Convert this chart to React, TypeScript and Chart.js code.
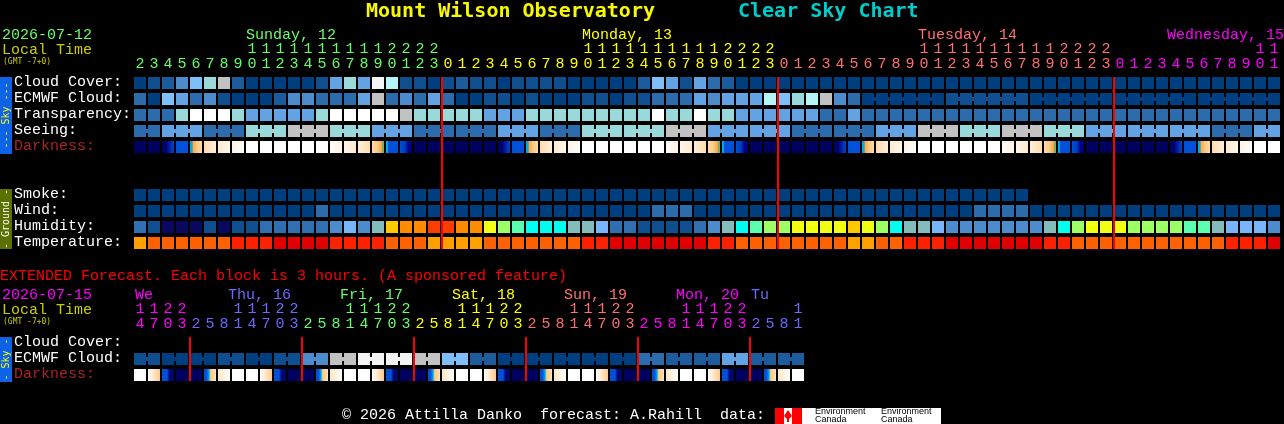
import React, { useEffect, useRef } from "react";
import { Chart, registerables } from "chart.js";

Chart.register(...registerables);

const MONO = '"Liberation Mono", "DejaVu Sans Mono", monospace';

// ---------- hours ----------
const mainHours = [
  2,3,4,5,6,7,8,9,10,11,12,13,14,15,16,17,18,19,20,21,22,23,
  0,1,2,3,4,5,6,7,8,9,10,11,12,13,14,15,16,17,18,19,20,21,22,23,
  0,1,2,3,4,5,6,7,8,9,10,11,12,13,14,15,16,17,18,19,20,21,22,23,
  0,1,2,3,4,5,6,7,8,9,10,11,
];
const extHours = [
  14,17,20,23,
  2,5,8,11,14,17,20,23, 2,5,8,11,14,17,20,23, 2,5,8,11,14,17,20,23,
  2,5,8,11,14,17,20,23, 2,5,8,11,14,17,20,23,
  2,5,8,11,
];
const mainDayStarts = [22, 46, 70];
const extDayStarts = [4, 12, 20, 28, 36, 44];

const GREEN = "#66ff66", YELLOW = "#ffff00", SALMON = "#ff7070", MAGENTA = "#ff00ff", PERI = "#6a6aff";
const mainDayColors = [GREEN, YELLOW, SALMON, MAGENTA];
const extDayColors = [MAGENTA, PERI, GREEN, YELLOW, SALMON, MAGENTA, PERI];

// ---------- colour tables ----------
const skyPalette = ["#003f7f","#0f4f8f","#1c5c9c","#2c6cac","#4c8ccc","#63a3e3","#7fbff7","#99d9d9","#b5f5f5","#c2c2c2","#f4f4f4","#ffffff"];
const humidityPalette = ["#08085f","#0f4f8f","#3070b0","#4c8ccc","#78b4f8","#84bcbc","#00ffee","#5cffb0","#9cff64","#f0ff14","#ffc800","#ff8c00","#ff3c00"];
const temperaturePalette = ["#ffa000","#ff6000","#ff2000","#e00000"];
const darkStops: Record<string, [number, string][]> = {
  n: [[0,"#00005f"]],
  d: [[0,"#00005f"],[0.3,"#00006e"],[0.6,"#001c9c"],[1,"#0048cc"]],
  b: [[0,"#0050d8"]],
  r: [[0,"#00a8e8"],[0.18,"#00a8e8"],[0.26,"#ffa840"],[0.6,"#ffc880"],[1,"#ffdcac"]],
  p: [[0,"#ffdcb0"],[1,"#ffeed8"]],
  q: [[0,"#ffead0"],[1,"#fff5e8"]],
  l: [[0,"#fff4e6"],[1,"#fffcf8"]],
  w: [[0,"#ffffff"]],
  L: [[0,"#fffcf8"],[1,"#fff4e6"]],
  Q: [[0,"#fff5e8"],[1,"#ffead0"]],
  P: [[0,"#ffeed8"],[1,"#ffdcb0"]],
  s: [[0,"#ffdcac"],[0.5,"#ffc880"],[0.78,"#ffa840"],[0.86,"#70b070"],[1,"#80b060"]],
  B: [[0,"#00a8e8"],[0.14,"#00a8e8"],[0.2,"#0050d8"],[1,"#0050d8"]],
  e: [[0,"#0050d8"],[0.4,"#0040c0"],[0.7,"#000090"],[1,"#00006a"]],
  S: [[0,"#ffffff"],[0.5,"#ffe6c4"],[1,"#ffc88a"]],
  D: [[0,"#0050d8"],[0.42,"#0050d8"],[0.6,"#000a80"],[1,"#00005f"]],
  R: [[0,"#0050d8"],[0.2,"#0050d8"],[0.42,"#00a8f0"],[0.55,"#ffc880"],[1,"#ffe4c0"]],
  V: [[0,"#ffe6c4"],[1,"#ffffff"]],
};

// ---------- main forecast rows (levels) ----------
const cloudCover = [
  0,1,2,4,6,7,9,2,0,0,0,0,0,1,5,7,5,10,8,1,1,0,
  1,2,1,1,0,1,1,1,1,0,0,0,0,0,2,6,5,1,5,3,2,0,0,0,
  0,0,0,0,0,0,0,0,0,0,0,0,0,0,0,0,0,0,0,0,0,0,0,0,
  0,0,0,0,0,0,0,0,0,0,0,0,
];
const ecmwfCloud = [
  3,0,6,5,3,4,1,0,0,0,2,4,4,3,3,3,5,9,3,4,3,5,
  3,0,0,1,1,0,1,0,0,0,1,1,0,1,1,3,3,3,5,4,5,5,5,8,
  6,7,8,9,4,3,0,0,0,0,0,0,1,1,1,1,1,1,0,0,0,0,0,0,
  0,0,0,0,0,0,0,0,0,0,0,0,
];
const ecmwfBlocks = [
  [52,6],[58,6],[64,6],[70,6],[76,6],
];
const transparency = [
  3,3,3,7,11,11,11,7,5,5,5,5,5,7,11,11,11,11,11,9,7,7,
  7,7,7,5,5,5,7,7,7,7,7,7,7,7,7,11,7,7,11,7,7,5,5,5,
  5,5,5,3,3,5,3,3,3,3,3,3,3,3,3,3,3,3,3,3,3,3,3,3,
  3,3,3,3,3,3,3,3,3,3,3,3,
];
const seeing = [
  3,3,5,5,5,3,3,3,7,7,7,9,9,9,7,7,7,5,5,5,3,3,
  3,3,3,3,5,5,5,3,3,3,7,7,7,7,7,7,9,9,9,5,5,5,5,5,
  5,3,3,3,3,3,3,5,5,5,9,9,9,7,7,7,9,9,9,7,7,7,5,5,
  5,5,5,5,5,5,5,3,3,3,5,5,
];
const seeingBlocks = [
  [0,2],[2,3],[5,3],[8,3],[11,3],[14,3],[17,3],[20,3],[23,3],[26,3],[29,3],[32,3],[35,3],[38,3],
  [41,3],[44,3],[47,3],[50,3],[53,3],[56,3],[59,3],[62,3],[65,3],[68,3],[71,3],[74,3],[77,3],[80,2],
];
const darkness = "nndbrpqlwwwwwwLQPsBennnnnndbrpqlwwwwwwLQPsBennnnnndbrpqlwwwwwwLQPsBennnnnndbrpqlww".split("");
const smoke = [
  0,0,0,0,0,0,0,0,0,0,0,0,0,0,0,0,0,0,0,0,0,0,
  0,0,0,0,0,0,0,0,0,0,0,0,0,0,0,0,0,0,0,0,0,0,0,0,
  0,0,0,0,0,0,0,0,0,0,0,0,0,0,0,0,0,0,
];
const wind = [
  0,0,0,0,0,0,0,0,0,0,0,0,0,3,0,0,0,0,0,0,0,0,
  0,0,0,0,0,0,0,0,0,0,0,0,0,0,0,3,3,3,0,0,0,0,0,0,
  0,0,0,0,0,0,0,0,0,0,0,0,0,0,3,3,3,3,0,0,0,0,0,0,
  0,0,0,0,0,0,0,0,0,0,0,0,
];
const humidity = [
  2,1,0,0,0,1,0,1,1,2,2,2,2,2,3,4,3,5,10,11,11,12,
  12,11,11,9,8,7,6,6,6,5,5,4,2,2,1,1,1,1,2,3,5,6,7,8,
  8,9,9,9,9,10,9,8,6,5,5,4,3,3,3,3,3,3,3,5,6,8,9,9,
  9,8,8,8,8,7,7,5,4,4,4,3,
];
const temperature = [
  0,1,1,1,1,1,1,2,2,2,3,3,3,3,2,2,2,2,1,1,1,0,
  0,0,0,1,1,1,1,1,1,1,2,2,3,3,3,3,3,3,3,2,2,1,1,1,
  1,1,1,1,1,0,0,1,1,2,2,2,3,3,3,3,3,3,3,2,2,1,1,1,
  1,1,1,1,1,1,1,1,2,2,2,3,
];

// ---------- extended forecast rows ----------
const extEcmwf = [
  1,1,0,0,0,0,1,1,0,0,1,1,4,4,9,9,10,10,10,10,9,9,6,6,
  2,2,0,0,0,0,0,0,0,0,0,0,3,3,2,2,2,2,5,5,2,2,2,2,
];
const extBlocks = [
  [0,2],[2,2],[4,2],[6,2],[8,2],[10,2],[12,2],[14,2],[16,2],[18,2],[20,2],[22,2],
  [24,2],[26,2],[28,2],[30,2],[32,2],[34,2],[36,2],[38,2],[40,2],[42,2],[44,2],[46,2],
];
const extDarkness = "wSDnnRVwwSDnnRVwwSDnnRVwwSDnnRVwwSDnnRVwwSDnnRVw".split("");

const mainRowNames = ["Cloud Cover:","ECMWF Cloud:","Transparency:","Seeing:","Darkness:","Smoke:","Wind:","Humidity:","Temperature:"];
const mainRowSlots = [0,1,2,3,4,7,8,9,10];
const extRowNames = ["Cloud Cover:","ECMWF Cloud:","Darkness:"];
const extRowSlots = [0,1,2];

// ---------- text ----------
const DARK_LABEL = "#aa2424";
const OLIVE = "#cccc00";
type Txt = { s: string; x: number; y: number; c: string; f?: string };
const mainTexts: Txt[] = [
  { s: "Mount Wilson Observatory", x: 366, y: 12, c: "#f8f800", f: `bold 20px "DejaVu Sans Mono"` },
  { s: "Clear Sky Chart", x: 738, y: 12, c: "#00cccc", f: `bold 20px "DejaVu Sans Mono"` },
  { s: "2026-07-12", x: 2, y: 35, c: GREEN },
  { s: "Local Time", x: 2, y: 50, c: OLIVE },
  { s: "(GMT -7+0)", x: 3, y: 62, c: OLIVE, f: `8px "DejaVu Sans Mono"` },
  { s: "Sunday, 12", x: 246, y: 35, c: GREEN },
  { s: "Monday, 13", x: 582, y: 35, c: YELLOW },
  { s: "Tuesday, 14", x: 918, y: 35, c: SALMON },
  { s: "Wednesday, 15", x: 1167, y: 35, c: MAGENTA },
];
const extTexts: Txt[] = [
  { s: "EXTENDED Forecast. Each block is 3 hours. (A sponsored feature)", x: 0, y: 16, c: "#ff0000" },
  { s: "2026-07-15", x: 2, y: 35, c: MAGENTA },
  { s: "Local Time", x: 2, y: 50, c: OLIVE },
  { s: "(GMT -7+0)", x: 3, y: 62, c: OLIVE, f: `8px "DejaVu Sans Mono"` },
  { s: "We", x: 135, y: 35, c: MAGENTA },
  { s: "Thu, 16", x: 228, y: 35, c: PERI },
  { s: "Fri, 17", x: 340, y: 35, c: GREEN },
  { s: "Sat, 18", x: 452, y: 35, c: YELLOW },
  { s: "Sun, 19", x: 564, y: 35, c: SALMON },
  { s: "Mon, 20", x: 676, y: 35, c: MAGENTA },
  { s: "Tu", x: 751, y: 35, c: PERI },
  { s: "© 2026 Attilla Danko  forecast: A.Rahill  data:", x: 342, y: 155, c: "#ffffff" },
];

type Strip = { label: string; y0: number; y1: number; bg: string; c: string };
const mainStrips: Strip[] = [
  { label: "--- Sky ---", y0: 77, y1: 154, bg: "#0e62e6", c: "#ffff00" },
  { label: "- Ground -", y0: 189, y1: 249, bg: "#5a7000", c: "#ffffff" },
];
const extStrips: Strip[] = [{ label: "- Sky -", y0: 77, y1: 122, bg: "#0e62e6", c: "#ffff00" }];

// ---------- helpers ----------
const HALF = 0.375, LINK = 0.125;

function cellRow(name: string, slot: number, levels: number[], palette: string[]) {
  return {
    label: name,
    data: levels.map((_, i) => ({ x: i, y: [slot - HALF, slot + HALF] })),
    backgroundColor: levels.map((l) => palette[l]),
    barThickness: 12,
  };
}
function linkRow(name: string, slot: number, levels: number[], blocks: number[][], palette: string[]) {
  const cols: number[] = [];
  blocks.forEach(([start, len]) => {
    for (let c = start; c < start + len - 1; c++) cols.push(c);
  });
  return {
    label: name + " links",
    data: cols.map((c) => ({ x: c + 0.5, y: [slot - LINK, slot + LINK] })),
    backgroundColor: cols.map((c) => palette[levels[c]]),
    barThickness: 2,
  };
}
function darkRow(name: string, slot: number, codes: string[]) {
  return {
    label: name,
    data: codes.map((_, i) => ({ x: i, y: [slot - HALF, slot + HALF] })),
    barThickness: 12,
    backgroundColor: (ctx: any) => {
      if (ctx.dataIndex === undefined || !ctx.chart.scales?.x) return "#00005f";
      const stops = darkStops[codes[ctx.dataIndex]];
      if (stops.length === 1) return stops[0][1];
      const px = ctx.chart.scales.x.getPixelForValue(ctx.dataIndex);
      const g = ctx.chart.ctx.createLinearGradient(px - 6, 0, px + 6, 0);
      stops.forEach(([o, c]) => g.addColorStop(o, c));
      return g;
    },
  };
}
function redLines(starts: number[], yMin: number, yMax: number) {
  return {
    label: "Day boundary",
    data: starts.map((c) => ({ x: c - 3 / 7, y: [yMin, yMax] })),
    backgroundColor: "#ff0000",
    barThickness: 2,
  };
}

const textPlugin = (texts: Txt[], strips: Strip[], logo: boolean) => ({
  id: "sheetText",
  afterDraw(chart: any) {
    const c: CanvasRenderingContext2D = chart.ctx;
    c.save();
    c.textBaseline = "middle";
    c.textAlign = "left";
    texts.forEach((t) => {
      c.font = t.f || `15px ${MONO}`;
      c.fillStyle = t.c;
      c.fillText(t.s, t.x, t.y);
    });
    strips.forEach((s) => {
      c.fillStyle = s.bg;
      c.fillRect(0, s.y0, 12, s.y1 - s.y0);
      c.save();
      c.translate(6, (s.y0 + s.y1) / 2);
      c.rotate(-Math.PI / 2);
      c.font = `10px "DejaVu Sans Mono"`;
      c.textAlign = "center";
      c.fillStyle = s.c;
      c.fillText(s.label, 0, 0);
      c.restore();
    });
    if (logo) {
      const top = 148;
      c.fillStyle = "#ffffff";
      c.fillRect(775, top, 166, 16);
      c.fillStyle = "#ff0000";
      c.fillRect(775, top, 9, 16);
      c.fillRect(792, top, 10, 16);
      c.beginPath();
      c.moveTo(788, top + 2);
      c.lineTo(792, top + 8);
      c.lineTo(789, top + 11);
      c.lineTo(789, top + 14);
      c.lineTo(787, top + 14);
      c.lineTo(787, top + 11);
      c.lineTo(784, top + 8);
      c.closePath();
      c.fill();
      c.fillStyle = "#000000";
      c.font = `9px "Liberation Sans"`;
      c.fillText("Environment", 815, top + 4);
      c.fillText("Canada", 815, top + 12);
      c.fillText("Environment", 881, top + 4);
      c.fillText("Canada", 881, top + 12);
    }
    c.restore();
  },
});

function buildConfig(opts: {
  datasets: any[];
  hours: number[];
  dayStarts: number[];
  dayColors: string[];
  rowNames: string[];
  rowSlots: number[];
  yMax: number;
  paddingBottom: number;
  plugin: any;
}) {
  const { hours, dayStarts, dayColors, rowNames, rowSlots } = opts;
  const colorFor = (i: number) => {
    let d = 0;
    dayStarts.forEach((s) => { if (i >= s) d++; });
    return dayColors[d];
  };
  const noPad = (s: any) => {
    s.paddingLeft = 0; s.paddingRight = 0; s.paddingTop = 0; s.paddingBottom = 0;
  };
  return {
    type: "bar" as const,
    data: { datasets: opts.datasets.map((d) => ({ inflateAmount: 0, borderWidth: 0, grouped: false, ...d })) },
    plugins: [opts.plugin],
    options: {
      responsive: false,
      animation: false as const,
      devicePixelRatio: 1,
      events: [] as any[],
      layout: { autoPadding: false, padding: { left: 14, right: 3, top: 0, bottom: opts.paddingBottom } },
      plugins: { legend: { display: false }, tooltip: { enabled: false }, title: { display: false } },
      scales: {
        x: {
          type: "linear" as const,
          position: "top" as const,
          offset: false,
          min: -0.5,
          max: 81.5,
          grid: { display: false, drawTicks: false },
          border: { display: false },
          afterBuildTicks: (s: any) => { s.ticks = hours.map((_, i) => ({ value: i })); },
          afterFit: (s: any) => { s.height = 75; noPad(s); },
          ticks: {
            autoSkip: false,
            maxRotation: 0,
            minRotation: 0,
            padding: 3,
            font: { family: MONO, size: 15, lineHeight: 1 },
            color: (ctx: any) => colorFor(ctx.index),
            callback: (v: number) => {
              const h = hours[Math.round(v)];
              return [h >= 10 ? String(Math.floor(h / 10)) : "", String(h % 10)];
            },
          },
        },
        y: {
          type: "linear" as const,
          reverse: true,
          offset: false,
          min: -0.5,
          max: opts.yMax,
          grid: { display: false, drawTicks: false },
          border: { display: false },
          afterBuildTicks: (s: any) => { s.ticks = rowSlots.map((value) => ({ value })); },
          afterFit: (s: any) => { s.width = 119; noPad(s); },
          ticks: {
            autoSkip: false,
            crossAlign: "far" as const,
            padding: 0,
            labelOffset: -1,
            font: { family: MONO, size: 15, lineHeight: 1 },
            color: (ctx: any) => (rowNames[ctx.index] === "Darkness:" ? DARK_LABEL : "#ffffff"),
            callback: (v: number) => rowNames[rowSlots.indexOf(v)],
          },
        },
      },
    },
  };
}

export default function App() {
  const mainRef = useRef<HTMLCanvasElement>(null);
  const extRef = useRef<HTMLCanvasElement>(null);

  useEffect(() => {
    document.body.style.margin = "0";
    document.body.style.background = "#000";

    const main = new Chart(mainRef.current!, buildConfig({
      datasets: [
        redLines(mainDayStarts, -HALF, 10 + HALF),
        cellRow("Cloud Cover", 0, cloudCover, skyPalette),
        cellRow("ECMWF Cloud", 1, ecmwfCloud, skyPalette),
        linkRow("ECMWF Cloud", 1, ecmwfCloud, ecmwfBlocks, skyPalette),
        cellRow("Transparency", 2, transparency, skyPalette),
        cellRow("Seeing", 3, seeing, skyPalette),
        linkRow("Seeing", 3, seeing, seeingBlocks, skyPalette),
        darkRow("Darkness", 4, darkness),
        cellRow("Smoke", 7, smoke, skyPalette),
        cellRow("Wind", 8, wind, skyPalette),
        cellRow("Humidity", 9, humidity, humidityPalette),
        cellRow("Temperature", 10, temperature, temperaturePalette),
      ],
      hours: mainHours,
      dayStarts: mainDayStarts,
      dayColors: mainDayColors,
      rowNames: mainRowNames,
      rowSlots: mainRowSlots,
      yMax: 10.5,
      paddingBottom: 11,
      plugin: textPlugin(mainTexts, mainStrips, false),
    }) as any);

    const ext = new Chart(extRef.current!, buildConfig({
      datasets: [
        redLines(extDayStarts, -HALF, 2 + HALF),
        cellRow("ECMWF Cloud", 1, extEcmwf, skyPalette),
        linkRow("ECMWF Cloud", 1, extEcmwf, extBlocks, skyPalette),
        darkRow("Darkness", 2, extDarkness),
      ],
      hours: extHours,
      dayStarts: extDayStarts,
      dayColors: extDayColors,
      rowNames: extRowNames,
      rowSlots: extRowSlots,
      yMax: 2.5,
      paddingBottom: 41,
      plugin: textPlugin(extTexts, extStrips, true),
    }) as any);

    return () => {
      main.destroy();
      ext.destroy();
    };
  }, []);

  return (
    <div style={{ position: "fixed", left: 0, top: 0, width: 1284, height: 424, background: "#000", overflow: "hidden" }}>
      <canvas ref={mainRef} width={1284} height={262} style={{ position: "absolute", left: 0, top: 0, display: "block" }} />
      <canvas ref={extRef} width={1284} height={164} style={{ position: "absolute", left: 0, top: 260, display: "block" }} />
    </div>
  );
}
